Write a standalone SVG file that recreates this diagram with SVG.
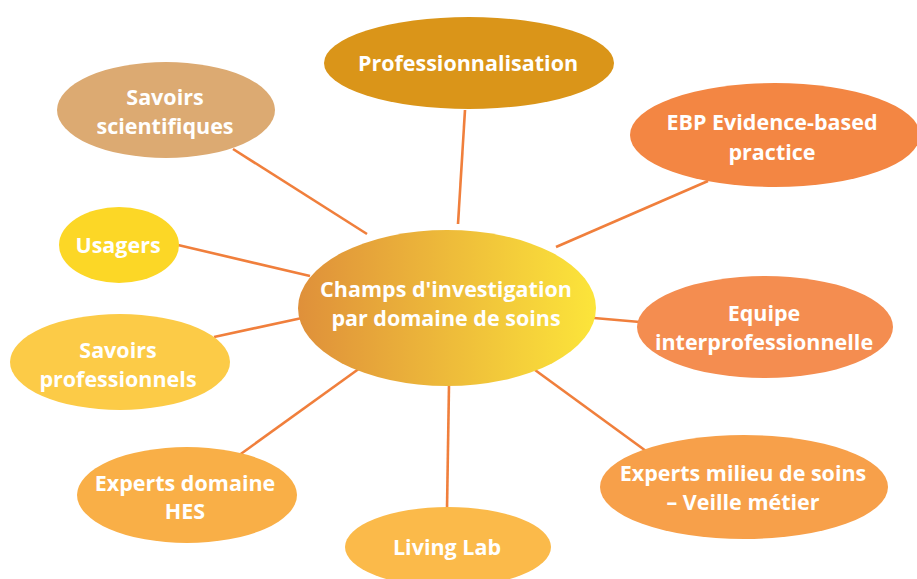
<svg xmlns="http://www.w3.org/2000/svg" width="917" height="579" viewBox="0 0 917 579">
<defs>
<linearGradient id="gc" x1="0" y1="0" x2="1" y2="0">
<stop offset="0" stop-color="#DF903A"/>
<stop offset="1" stop-color="#FCE53A"/>
</linearGradient>
</defs>
<style>
.t{font-family:"Open Sans","Noto Sans","Liberation Sans",sans-serif;font-weight:700;font-size:21.5px;fill:#fff;text-anchor:middle}
.c line{stroke:#F07F3C;stroke-width:2.6}
</style>
<rect width="917" height="579" fill="#fff"/>
<g class="c" id="connectors">
<line x1="465" y1="110" x2="458" y2="224"/>
<line x1="233" y1="149" x2="367" y2="234"/>
<line x1="708" y1="181" x2="556" y2="247"/>
<line x1="178" y1="245" x2="310" y2="276"/>
<line x1="214" y1="337" x2="302" y2="318"/>
<line x1="594" y1="318" x2="640" y2="322"/>
<line x1="238" y1="456" x2="360" y2="368"/>
<line x1="449" y1="385" x2="447" y2="509"/>
<line x1="535" y1="370" x2="646" y2="451"/>
</g>
<g id="professionnalisation">
<ellipse cx="469" cy="63" rx="145" ry="46" fill="#DA9519"/>
<text class="t" x="468" y="71">Professionnalisation</text>
</g>
<g id="savoirs-scientifiques">
<ellipse cx="166" cy="110" rx="109" ry="48" fill="#DCAA72"/>
<text class="t" x="165" y="105">Savoirs</text>
<text class="t" x="165" y="134">scientifiques</text>
</g>
<g id="ebp">
<ellipse cx="775" cy="135" rx="145" ry="52" fill="#F38643"/>
<text class="t" x="772" y="130">EBP Evidence-based</text>
<text class="t" x="772" y="160">practice</text>
</g>
<g id="usagers">
<ellipse cx="119" cy="245" rx="60" ry="38" fill="#FCD726"/>
<text class="t" x="118" y="253">Usagers</text>
</g>
<g id="centre">
<ellipse cx="447" cy="308" rx="149" ry="78" fill="url(#gc)"/>
<text class="t" x="446" y="297">Champs d'investigation</text>
<text class="t" x="446" y="326">par domaine de soins</text>
</g>
<g id="equipe">
<ellipse cx="765" cy="327" rx="128" ry="51" fill="#F48D50"/>
<text class="t" x="764" y="321">Equipe</text>
<text class="t" x="764" y="350">interprofessionnelle</text>
</g>
<g id="savoirs-professionnels">
<ellipse cx="120" cy="362" rx="110" ry="48" fill="#FCCB47"/>
<text class="t" x="118" y="358">Savoirs</text>
<text class="t" x="118" y="387">professionnels</text>
</g>
<g id="experts-hes">
<ellipse cx="187" cy="495" rx="110" ry="48" fill="#F9AF47"/>
<text class="t" x="185" y="491">Experts domaine</text>
<text class="t" x="185" y="519">HES</text>
</g>
<g id="experts-milieu">
<ellipse cx="744" cy="487" rx="144" ry="52" fill="#F7A04A"/>
<text class="t" x="743" y="481">Experts milieu de soins</text>
<text class="t" x="743" y="510">– Veille métier</text>
</g>
<g id="living-lab">
<ellipse cx="448" cy="547" rx="103" ry="40" fill="#FBBA4A"/>
<text class="t" x="447" y="555">Living Lab</text>
</g>
</svg>
